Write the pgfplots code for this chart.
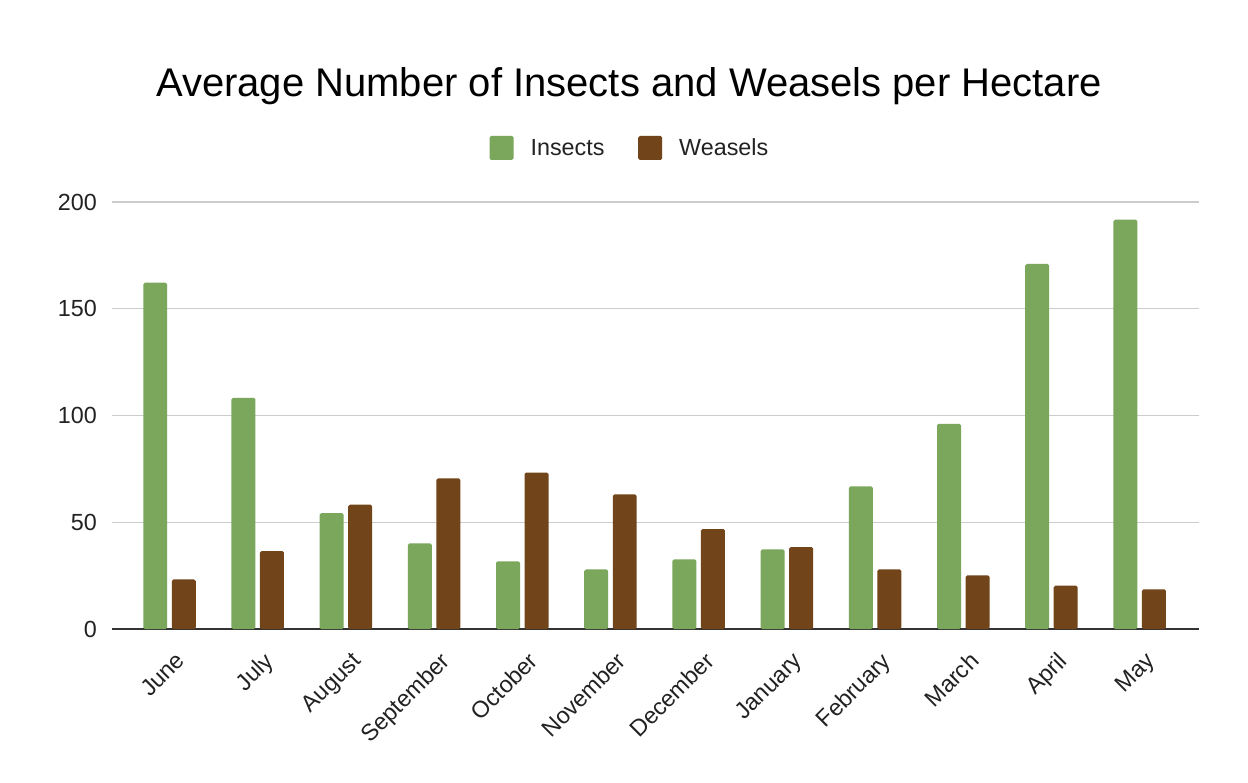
\documentclass[border=0pt]{standalone}
\usepackage{fontspec}
\setmainfont{Liberation Sans}
\usepackage{pgfplots}
\pgfplotsset{compat=1.18}
\definecolor{insgreen}{RGB}{122,167,92}
\definecolor{weabrown}{RGB}{114,68,25}
\definecolor{gridgray}{RGB}{204,204,204}
\definecolor{axisdark}{RGB}{51,51,51}
\definecolor{txt}{RGB}{34,34,34}
\begin{document}
\begin{tikzpicture}
\path[fill=white] (0pt,0pt) rectangle (936pt,586.5pt);
\useasboundingbox (0pt,0pt) rectangle (936pt,586.5pt);
\node[anchor=base, font=\fontsize{30}{35}\selectfont, text=black, inner sep=0pt] at (471.75pt,513.75pt) {Average Number of Insects and Weasels per Hectare};
\begin{axis}[
  at={(83.8pt,114.75pt)}, anchor=south west,
  scale only axis, width=815.6pt, height=320.25pt,
  xmin=-0.655, xmax=11.675, ymin=0, ymax=200,
  ytick={50,100,150,200},
  extra y ticks={0}, extra y tick labels={0},
  extra y tick style={grid style={color=axisdark, line width=1.5pt}},
  ymajorgrids, grid style={color=gridgray, line width=1.1pt},
  axis line style={draw=none},
  major tick length=0pt,
  tick style={draw=none},
  /pgf/number format/assume math mode=true,
  ticklabel style={font=\fontsize{17.5}{20}\selectfont, text=txt},
  yticklabel style={anchor=east, inner sep=0pt, xshift=-11pt},
  xtick={0,1,2,3,4,5,6,7,8,9,10,11},
  xticklabels={June,July,August,September,October,November,December,January,February,March,April,May},
  xticklabel style={rotate=45, anchor=north east, inner sep=0pt, xshift=-8.75pt, yshift=-14pt},
  ybar, bar width=0.272,
  legend style={draw=none, fill=none, at={(0.4756,1.1265)}, anchor=center,
    legend columns=-1, font=\fontsize{17.5}{20}\selectfont, text=txt,
    /tikz/every odd column/.append style={column sep=12.75pt},
    /tikz/every even column/.append style={column sep=25.3pt},
    nodes={inner sep=0pt}},
  legend cell align=left,
]
\addplot[fill=insgreen, draw=none, bar shift=-0.1616, rounded corners=1.2pt,
  legend image code/.code={\fill[insgreen, rounded corners=1.2pt] (0pt,-9pt) rectangle (18pt,9pt);}]
  coordinates {(0,162.2) (1,108.3) (2,54.3) (3,40.1) (4,31.7) (5,27.9) (6,32.6) (7,37.3) (8,66.8) (9,96.1) (10,171.0) (11,191.7)};
\addlegendentry{Insects}
\addplot[fill=weabrown, draw=none, bar shift=0.1616, rounded corners=1.2pt,
  legend image code/.code={\fill[weabrown, rounded corners=1.2pt] (0pt,-9pt) rectangle (18pt,9pt);}]
  coordinates {(0,23.2) (1,36.5) (2,58.2) (3,70.5) (4,73.3) (5,63.0) (6,46.8) (7,38.4) (8,27.9) (9,25.1) (10,20.3) (11,18.6)};
\addlegendentry{Weasels}
\end{axis}
\end{tikzpicture}
\end{document}
